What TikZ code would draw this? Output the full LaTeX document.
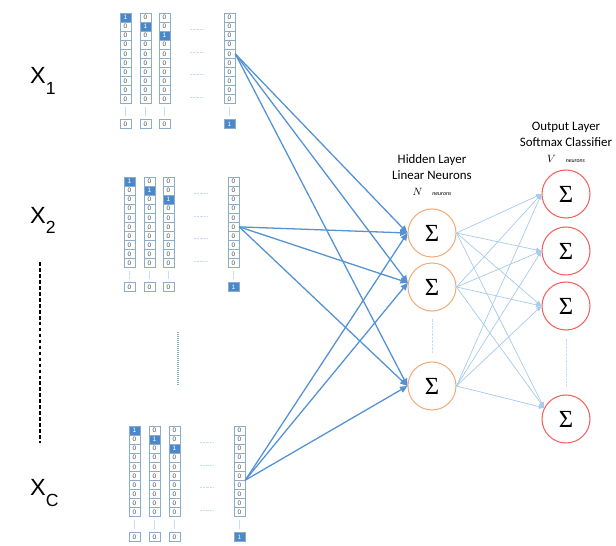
\documentclass[tikz,border=0pt]{standalone}
\usepackage{fontspec}
\setmainfont{Carlito}
\newfontfamily\arialfont{Liberation Sans}
\newfontfamily\greekfont{Liberation Serif}
\usetikzlibrary{arrows.meta, positioning, calc}
\definecolor{cellline}{RGB}{140,172,205}
\definecolor{hotblue}{RGB}{74,136,202}
\definecolor{wblue}{RGB}{84,146,212}
\definecolor{wlight}{RGB}{168,202,236}
\definecolor{faint}{RGB}{200,220,242}
\definecolor{hidorange}{RGB}{244,172,124}
\definecolor{outred}{RGB}{246,96,96}
\tikzset{
  cell/.style={draw=cellline,fill=white,line width=0.45pt,minimum width=3.3mm,
    minimum height=2.72mm,inner sep=0pt,text=black!70,
    font=\arialfont\fontsize{5.5}{6}\selectfont},
  hotcell/.style={cell,fill=hotblue,text=white},
  neuron/.style={circle,line width=0.9pt,minimum size=14.4mm,inner sep=0pt,
    font=\greekfont\fontsize{21}{21}\selectfont},
  hidden/.style={neuron,draw=hidorange},
  output/.style={neuron,draw=outred},
  xlabel/.style={font=\arialfont\fontsize{20}{20}\selectfont,inner sep=0pt,anchor=base west},
  layertitle/.style={align=center,font=\fontsize{11}{13}\selectfont},
  countlabel/.style={font=\fontsize{5}{6}\selectfont\itshape},
  wire/.style={-{Triangle[length=2.2mm,width=1.9mm]},wblue,line width=1.1pt},
  softwire/.style={-{Triangle[length=1.6mm,width=1.3mm]},wlight,line width=0.6pt},
  gap/.style={faint,line width=0.6pt},
  gapdots/.style={faint,line width=0.8pt,dash pattern=on 0.6pt off 0.6pt}
}
\newcommand{\xsub}[1]{X\raisebox{-3.3mm}{\fontsize{15}{15}\selectfont #1}}

\begin{document}
\begin{tikzpicture}[x=0.3mm,y=-0.3mm]
  \useasboundingbox (0,0) rectangle (616,546);

  % one-hot input vectors
  \foreach \g/\xa/\xb/\xc/\xd/\ya/\yb in {1/120/140/159/224/13/120,
      2/124/144/163/228/177/283, 3/129/149/169/234/426/533}{
    \foreach \c/\x in {1/\xa,2/\xb,3/\xc,4/\xd}{
      \foreach \r in {1,...,10}{
        \pgfmathtruncatemacro\hot{and(\c==\r,\c<4)}
        \ifnum\hot=1
          \node[hotcell] (g\g-\c-\r) at (\x+5.5,{\ya+(\r-0.5)*9.07}) {1};
        \else
          \node[cell] (g\g-\c-\r) at (\x+5.5,{\ya+(\r-0.5)*9.07}) {0};
        \fi
      }
      \ifnum\c=4
        \node[hotcell] (g\g-\c-b) at (\x+5.5,\yb+4) {1};
      \else
        \node[cell] (g\g-\c-b) at (\x+5.5,\yb+4) {0};
      \fi
      \draw[gap,shorten <=0.9mm,shorten >=0.9mm] (g\g-\c-10.south) -- (g\g-\c-b.north);
    }
    \foreach \dy in {16,39,61,84}
      \draw[gapdots] ({(\xc+11+\xd)/2-7},\ya+\dy) -- ({(\xc+11+\xd)/2+7},\ya+\dy);
  }

  % word labels
  \node[xlabel] (x1) at (30,84) {\xsub{1}};
  \node[xlabel] (x2) at (30,223) {\xsub{2}};
  \node[xlabel] (xc) at (30,495) {\xsub{C}};
  \coordinate (dtop) at (40,262);
  \coordinate (dbot) at (40,443);
  \draw[line width=2.4pt,dash pattern=on 3.2pt off 1.9pt] (dtop) -- (dbot);
  \coordinate (mtop) at (178,332);
  \coordinate (mbot) at (178,385);
  \draw[gapdots,draw=hotblue!70,line width=1.4pt,dash pattern=on 0.85pt off 0.85pt] (mtop) -- (mbot);

  % hidden layer
  \node[hidden] (h1) at (432,233) {Σ};
  \node[hidden] (h2) at (432,287) {Σ};
  \node[hidden] (h3) at (432,386) {Σ};
  \draw[gapdots,shorten <=2.1mm,shorten >=2.7mm] (h2.south) -- (h3.north);
  \node[countlabel,above=2.6mm of h1] (hidn)
    {{\fontsize{9}{9}\selectfont$N$}\hspace{3mm}neurons};
  \node[layertitle,above=0.3mm of hidn] (hidtitle) {Hidden Layer\\Linear Neurons};

  % output layer
  \node[output] (o1) at (566,194) {Σ};
  \node[output] (o2) at (566,251) {Σ};
  \node[output] (o3) at (566,306) {Σ};
  \node[output] (o4) at (566,419) {Σ};
  \draw[gapdots,shorten <=2.4mm,shorten >=2.4mm] (o3.south) -- (o4.north);
  \node[countlabel,above=0.8mm of o1] (outv)
    {{\fontsize{9}{9}\selectfont$V$}\hspace{3mm}neurons};
  \node[layertitle,above=0.3mm of outv] (outtitle) {Output Layer\\Softmax Classifier};

  % connections
  \foreach \s in {g1-4-5.east,g2-4-6.east,g3-4-7.north east}{
    \draw[wire] (\s) -- (h1.west);
    \draw[wire] (\s) -- (h2.170);
    \draw[wire] (\s) -- (h3.west);
  }
  \foreach \h in {h1,h2,h3}
    \foreach \o/\a in {o1/west,o2/west,o3/west,o4/153}
      \draw[softwire] (\h.east) -- (\o.\a);
\end{tikzpicture}
\end{document}
